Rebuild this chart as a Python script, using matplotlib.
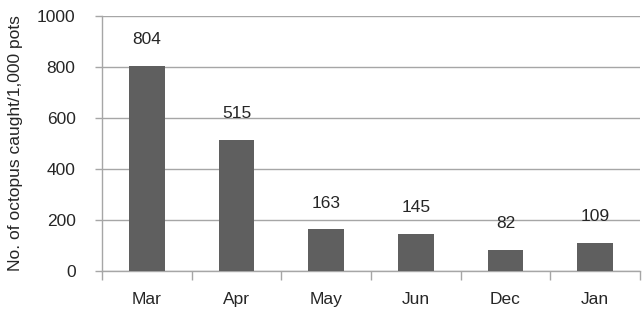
import matplotlib
matplotlib.use("Agg")
import matplotlib.pyplot as plt
import numpy as np

months = ["Mar", "Apr", "May", "Jun", "Dec", "Jan"]
catch = [804, 515, 163, 145, 82, 109]
yticks = [0, 200, 400, 600, 800, 1000]

plt.rcParams['font.family'] = ['Liberation Sans', 'DejaVu Sans']

fig = plt.figure(figsize=(6.44, 3.19), dpi=100)
ax = fig.add_axes([102/644, 1 - 271/319, 538/644, 255/319])

grid_c = "#a6a6a6"
text_c = "#262626"
fs = 12.5

x = np.arange(len(months))
ax.bar(x, catch, width=0.4, color="#5f5f5f", zorder=3)

for xi, v in zip(x, catch):
    ax.annotate(str(v), (xi, v), xytext=(0, 19), textcoords="offset points",
                ha="center", va="center", fontsize=fs, color=text_c)

ax.set_xlim(-0.5, len(months) - 0.5)
ax.set_ylim(0, 1000)
ax.set_yticks(yticks)
ax.set_yticklabels([str(t) for t in yticks])
ax.yaxis.grid(True, color=grid_c, linewidth=1.0, zorder=0)
ax.set_axisbelow(True)

ax.set_xticks(x)
ax.set_xticklabels(months)
ax.set_xticks(np.arange(-0.5, len(months)), minor=True)
ax.tick_params(axis="x", which="major", length=0, pad=15, labelsize=fs, labelcolor=text_c)
ax.tick_params(axis="x", which="minor", length=6.5, color=grid_c, width=1.0)
ax.tick_params(axis="y", length=5, color=grid_c, width=1.0, labelsize=fs, labelcolor=text_c, pad=14)

for s in ["top", "right"]:
    ax.spines[s].set_visible(False)
for s in ["left", "bottom"]:
    ax.spines[s].set_color(grid_c)
    ax.spines[s].set_linewidth(1.0)

ax.set_ylabel("No. of octopus caught/1,000 pots", fontsize=fs, color=text_c, labelpad=10)

fig.savefig("out.png", dpi=100)
